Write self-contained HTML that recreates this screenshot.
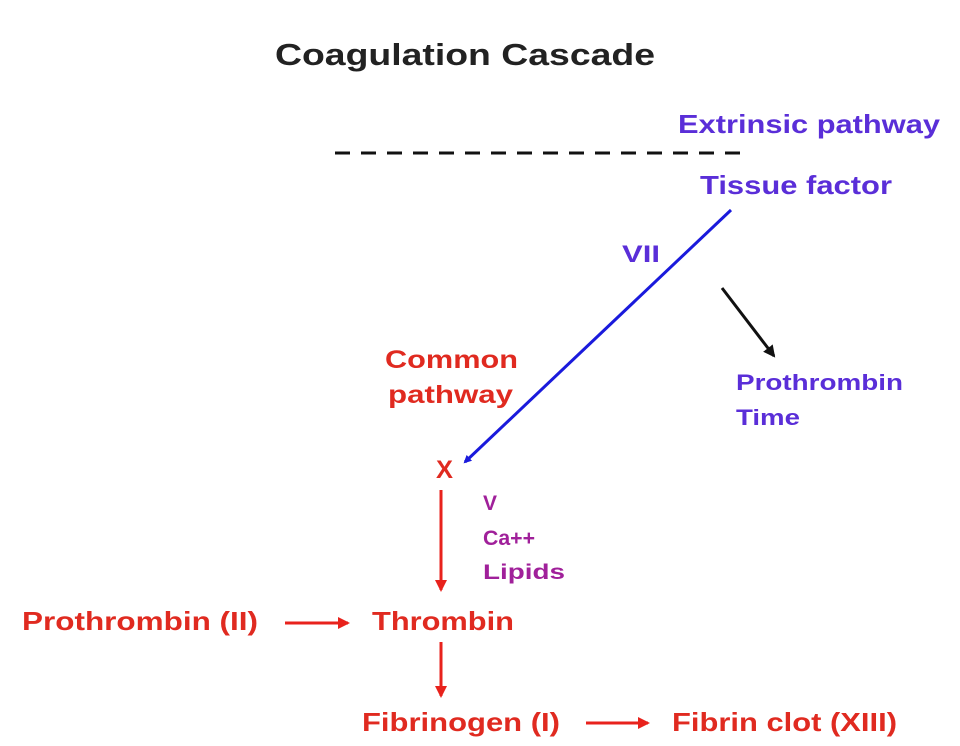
<!DOCTYPE html>
<html><head><meta charset="utf-8"><style>html,body{margin:0;padding:0;background:#fff}svg{display:block}text{font-family:"Liberation Sans",Arial,sans-serif;font-weight:bold}</style></head>
<body>
<svg width="960" height="746" viewBox="0 0 960 746" xmlns="http://www.w3.org/2000/svg">
<defs>
<marker id="ab" markerWidth="8" markerHeight="8" refX="6" refY="4" orient="auto" markerUnits="userSpaceOnUse" viewBox="0 0 8 8"><path d="M0,0 L8,4 L0,8 Z" fill="#1a1adc"/></marker>
<marker id="ak" markerWidth="12" markerHeight="12" refX="10" refY="6" orient="auto" markerUnits="userSpaceOnUse"><path d="M0,0 L12,6 L0,12 Z" fill="#111"/></marker>
<marker id="ar" markerWidth="12" markerHeight="12" refX="10" refY="6" orient="auto" markerUnits="userSpaceOnUse"><path d="M0,0 L12,6 L0,12 Z" fill="#e8221c"/></marker>
</defs>
<text x="275" y="65" font-size="31" fill="#222" textLength="380" lengthAdjust="spacingAndGlyphs" style="font-weight:bold">Coagulation Cascade</text>
<text x="678" y="133" font-size="26" fill="#5a2ed8" textLength="262" lengthAdjust="spacingAndGlyphs">Extrinsic pathway</text>
<line x1="335" y1="153" x2="742" y2="153" stroke="#111" stroke-width="3" stroke-dasharray="15,11"/>
<text x="700" y="194" font-size="26" fill="#5a2ed8" textLength="192" lengthAdjust="spacingAndGlyphs">Tissue factor</text>
<text x="622" y="262" font-size="24" fill="#5a2ed8" textLength="38" lengthAdjust="spacingAndGlyphs">VII</text>
<line x1="731" y1="210" x2="465" y2="462" stroke="#1a1adc" stroke-width="3" marker-end="url(#ab)"/>
<line x1="722" y1="288" x2="774" y2="356" stroke="#111" stroke-width="3" marker-end="url(#ak)"/>
<text x="385" y="368" font-size="25" fill="#e02a20" textLength="133" lengthAdjust="spacingAndGlyphs">Common</text>
<text x="388" y="403" font-size="25" fill="#e02a20" textLength="125" lengthAdjust="spacingAndGlyphs">pathway</text>
<text x="736" y="390" font-size="22" fill="#5a2ed8" textLength="167" lengthAdjust="spacingAndGlyphs">Prothrombin</text>
<text x="736" y="425" font-size="22" fill="#5a2ed8" textLength="64" lengthAdjust="spacingAndGlyphs">Time</text>
<text x="436" y="478" font-size="25" fill="#e02a20" textLength="17" lengthAdjust="spacingAndGlyphs">X</text>
<line x1="441" y1="490" x2="441" y2="590" stroke="#e8221c" stroke-width="3" marker-end="url(#ar)"/>
<text x="483" y="510" font-size="21" fill="#a0209a">V</text>
<text x="483" y="545" font-size="21" fill="#a0209a" textLength="52" lengthAdjust="spacingAndGlyphs">Ca++</text>
<text x="483" y="579" font-size="21" fill="#a0209a" textLength="82" lengthAdjust="spacingAndGlyphs">Lipids</text>
<text x="22" y="630" font-size="26" fill="#e02a20" textLength="236" lengthAdjust="spacingAndGlyphs">Prothrombin (II)</text>
<line x1="285" y1="623" x2="348" y2="623" stroke="#e8221c" stroke-width="3" marker-end="url(#ar)"/>
<text x="372" y="630" font-size="26" fill="#e02a20" textLength="142" lengthAdjust="spacingAndGlyphs">Thrombin</text>
<line x1="441" y1="642" x2="441" y2="696" stroke="#e8221c" stroke-width="3" marker-end="url(#ar)"/>
<text x="362" y="731" font-size="26" fill="#e02a20" textLength="198" lengthAdjust="spacingAndGlyphs">Fibrinogen (I)</text>
<line x1="586" y1="723" x2="648" y2="723" stroke="#e8221c" stroke-width="3" marker-end="url(#ar)"/>
<text x="672" y="731" font-size="26" fill="#e02a20" textLength="225" lengthAdjust="spacingAndGlyphs">Fibrin clot (XIII)</text>
</svg>
</body></html>
